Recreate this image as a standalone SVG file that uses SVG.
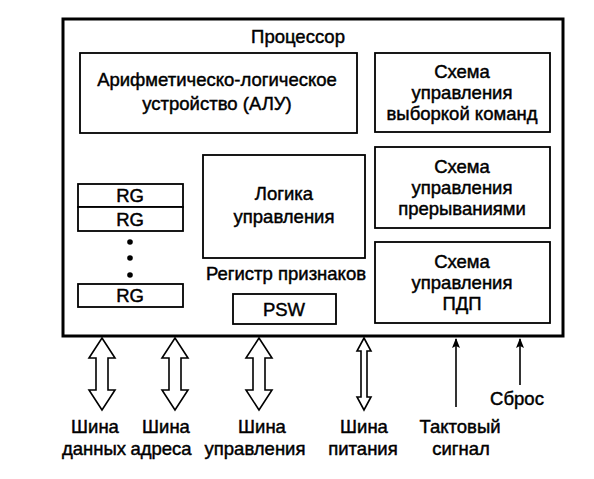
<svg xmlns="http://www.w3.org/2000/svg" width="594" height="479" viewBox="0 0 594 479">
<style>
.box{fill:#fff;stroke:#000;stroke-width:1.8}
.outer{fill:#fff;stroke:#000;stroke-width:3}
text{font-family:"Liberation Sans",Arial,sans-serif;font-size:18.5px;fill:#000;stroke:#000;stroke-width:0.45;text-anchor:middle}
.dbl{fill:#fff;stroke:#000;stroke-width:1.6;stroke-linejoin:miter}
.thin{stroke:#000;stroke-width:1.6;fill:none}
</style>
<defs>
<marker id="ah" markerWidth="10" markerHeight="8" refX="9" refY="4" orient="auto" markerUnits="userSpaceOnUse" viewBox="0 0 10 8">
<path d="M0,0 L10,4 L0,8 L2,4 Z" fill="#000"/>
</marker>
</defs>
<rect width="594" height="479" fill="#fff"/>
<g id="processor">
<rect class="outer" x="63" y="19" width="500" height="317"/>
<text x="298" y="43">Процессор</text>
</g>
<g id="alu">
<rect class="box" x="80" y="53" width="277" height="80"/>
<text x="217" y="86">Арифметическо-логическое</text>
<text x="217" y="110">устройство (АЛУ)</text>
</g>
<g id="fetch">
<rect class="box" x="375" y="53" width="175" height="79"/>
<text x="462" y="78">Схема</text>
<text x="462" y="99">управления</text>
<text x="462" y="120">выборкой команд</text>
</g>
<g id="interrupt">
<rect class="box" x="375" y="147" width="175" height="81"/>
<text x="462" y="173">Схема</text>
<text x="462" y="194">управления</text>
<text x="462" y="215">прерываниями</text>
</g>
<g id="dma">
<rect class="box" x="375" y="242" width="175" height="81"/>
<text x="462" y="268">Схема</text>
<text x="462" y="289">управления</text>
<text x="462" y="310">ПДП</text>
</g>
<g id="logic">
<rect class="box" x="203" y="155" width="162" height="103"/>
<text x="284" y="200">Логика</text>
<text x="284" y="223">управления</text>
</g>
<g id="rg1">
<rect class="box" x="78" y="184" width="105" height="23"/>
<text x="130" y="202">RG</text>
</g>
<g id="rg2">
<rect class="box" x="78" y="207" width="105" height="24"/>
<text x="130" y="226">RG</text>
</g>
<g id="dots">
<circle cx="130" cy="242" r="2.8"/>
<circle cx="130" cy="258" r="2.8"/>
<circle cx="130" cy="275" r="2.8"/>
</g>
<g id="rg3">
<rect class="box" x="78" y="284" width="105" height="23"/>
<text x="130" y="302">RG</text>
</g>
<g id="psw">
<text x="286" y="280">Регистр признаков</text>
<rect class="box" x="233" y="294" width="103" height="30"/>
<text x="284" y="316">PSW</text>
</g>
<g id="connectors">
<path class="dbl" d="M102,338 L115,358 L108,358 L108,390 L115,390 L102,410 L89,390 L96,390 L96,358 L89,358 Z"/>
<path class="dbl" d="M175,338 L188,358 L181,358 L181,390 L188,390 L175,410 L162,390 L169,390 L169,358 L162,358 Z"/>
<path class="dbl" d="M259,338 L272,358 L265,358 L265,390 L272,390 L259,410 L246,390 L253,390 L253,358 L246,358 Z"/>
<path class="dbl" d="M364,338 L371,351 L367,351 L367,397 L371,397 L364,410 L357,397 L361,397 L361,351 L357,351 Z"/>
<line class="thin" x1="456" y1="407" x2="456" y2="339" marker-end="url(#ah)"/>
<line class="thin" x1="520" y1="385" x2="520" y2="339" marker-end="url(#ah)"/>
</g>
<g id="labels">
<text x="95" y="433">Шина</text>
<text x="94" y="455">данных</text>
<text x="166" y="433">Шина</text>
<text x="161" y="455">адреса</text>
<text x="262" y="433">Шина</text>
<text x="255" y="455">управления</text>
<text x="364" y="433">Шина</text>
<text x="363" y="455">питания</text>
<text x="460" y="433">Тактовый</text>
<text x="461" y="455">сигнал</text>
<text x="517" y="405">Сброс</text>
</g>
</svg>
